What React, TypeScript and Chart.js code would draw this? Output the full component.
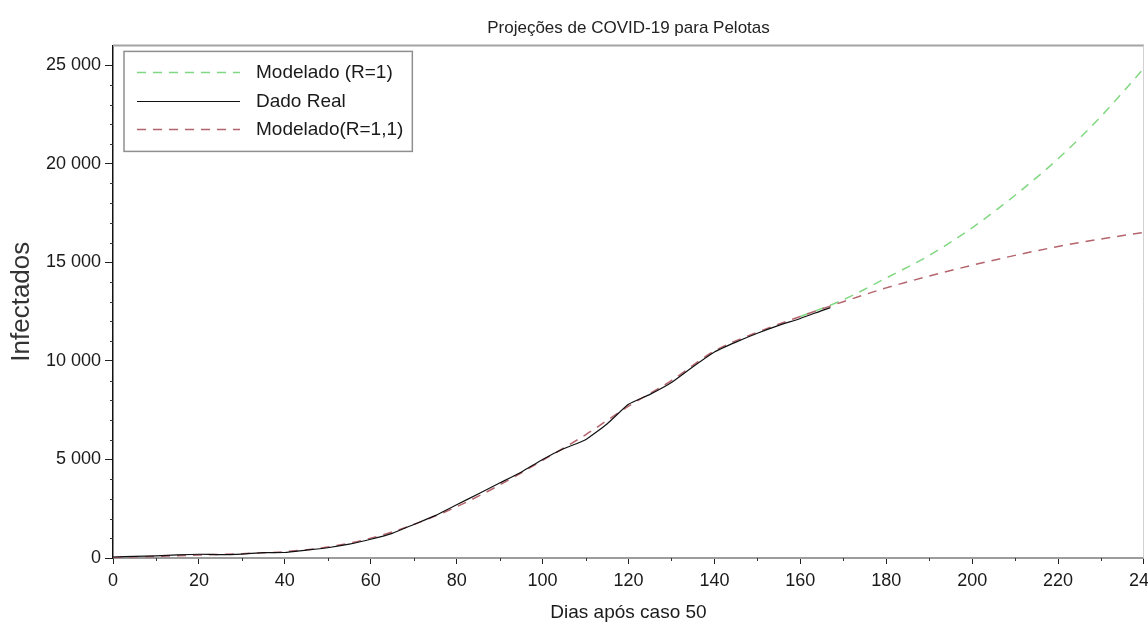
import React, { useEffect, useRef } from "react";
import { Chart, registerables } from "chart.js";

Chart.register(...registerables);

const CHART_TITLE = "Projeções de COVID-19 para Pelotas";
const X_TITLE = "Dias após caso 50";
const Y_TITLE = "Infectados";

const X_TICKS = [0, 20, 40, 60, 80, 100, 120, 140, 160, 180, 200, 220, 240];
const Y_TICKS = [0, 5000, 10000, 15000, 20000, 25000];

// Model with R=1,1 (full horizon)
const MODEL_DAYS = [
  0, 10, 20, 30, 40, 50, 60, 70, 80, 90, 100, 110, 120, 130, 140, 150, 160, 170, 180, 190, 200,
  210, 220, 230, 240,
];
const MODEL_R11 = [
  30, 80, 150, 220, 320, 560, 1000, 1700, 2600, 3700, 4950, 6250, 7700, 9000, 10500, 11450, 12250,
  13000, 13700, 14300, 14850, 15350, 15800, 16180, 16520,
];

// Model with R=1 (projection branch)
const PROJ_DAYS = [160, 170, 180, 190, 200, 210, 220, 230, 240];
const MODEL_R1 = [12250, 13100, 14200, 15350, 16750, 18400, 20250, 22400, 24850];

// Observed cumulative cases
const REAL_DAYS = [
  0, 5, 10, 15, 20, 25, 30, 35, 40, 45, 50, 55, 60, 65, 70, 75, 80, 85, 90, 95, 100, 105, 110,
  115, 120, 125, 130, 135, 140, 145, 150, 155, 160, 165, 167,
];
const REAL_CASES = [
  50, 80, 110, 160, 190, 170, 200, 270, 280, 400, 520, 700, 950, 1250, 1700, 2150, 2700, 3250,
  3800, 4350, 5000, 5550, 6000, 6800, 7800, 8300, 8900, 9700, 10450, 10950, 11400, 11800, 12150,
  12550, 12700,
];

const SERIES_LABELS = ["Modelado (R=1)", "Dado Real", "Modelado(R=1,1)"];

const FONT = "'Liberation Sans', Arial, sans-serif";

const toPoints = (xs: number[], ys: number[]) => xs.map((x, i) => ({ x, y: ys[i] }));
const groupThousands = (v: number) => String(v).replace(/\B(?=(\d{3})+(?!\d))/g, " ");

// Top/right frame lines and minor tick marks
const framePlugin = {
  id: "frame",
  afterDraw(chart: any) {
    const { ctx, chartArea } = chart;
    const { left, right, top, bottom } = chartArea;
    const xs = chart.scales.x;
    const ys = chart.scales.y;
    ctx.save();
    ctx.strokeStyle = "#a4a4a4";
    ctx.lineWidth = 2;
    ctx.beginPath();
    ctx.moveTo(left, top);
    ctx.lineTo(right, top);
    ctx.stroke();
    ctx.strokeStyle = "#d0d0d0";
    ctx.lineWidth = 1;
    ctx.beginPath();
    ctx.moveTo(right - 0.5, top);
    ctx.lineTo(right - 0.5, bottom);
    ctx.stroke();

    ctx.strokeStyle = "#333";
    ctx.lineWidth = 1;
    for (let v = ys.min + 1000; v < ys.max; v += 1000) {
      if (v % 5000 === 0) continue;
      const py = Math.round(ys.getPixelForValue(v)) + 0.5;
      ctx.beginPath();
      ctx.moveTo(left - 3, py);
      ctx.lineTo(left, py);
      ctx.stroke();
    }
    for (let v = xs.min + 10; v < xs.max; v += 20) {
      const px = Math.round(xs.getPixelForValue(v)) + 0.5;
      ctx.beginPath();
      ctx.moveTo(px, bottom);
      ctx.lineTo(px, bottom + 3);
      ctx.stroke();
    }
    ctx.restore();
  },
};

// Boxed legend inside the plot area
const legendBoxPlugin = {
  id: "legendBox",
  afterDraw(chart: any) {
    const { ctx, chartArea } = chart;
    const x0 = chartArea.left + 11;
    const y0 = chartArea.top + 6;
    const datasets = chart.data.datasets;
    ctx.save();
    ctx.font = `19px ${FONT}`;
    const textX = x0 + 132;
    const maxW = Math.max(...datasets.map((d: any) => ctx.measureText(d.label).width));
    const w = 132 + maxW + 9;
    const h = 100;
    ctx.fillStyle = "#ffffff";
    ctx.fillRect(x0, y0, w, h);
    ctx.strokeStyle = "#8f8f8f";
    ctx.lineWidth = 1.5;
    ctx.strokeRect(x0, y0, w, h);
    datasets.forEach((ds: any, i: number) => {
      const y = Math.round(y0 + 21 + i * 28.5) + 0.5;
      ctx.strokeStyle = ds.borderColor;
      ctx.lineWidth = ds.borderWidth;
      ctx.setLineDash(ds.borderDash || []);
      ctx.beginPath();
      ctx.moveTo(x0 + 13, y);
      ctx.lineTo(x0 + 116, y);
      ctx.stroke();
      ctx.setLineDash([]);
      ctx.fillStyle = "#1a1a1a";
      ctx.textBaseline = "middle";
      ctx.textAlign = "left";
      ctx.fillText(ds.label, textX, y);
    });
    ctx.restore();
  },
};

export default function App() {
  const canvasRef = useRef<HTMLCanvasElement | null>(null);

  useEffect(() => {
    if (!canvasRef.current) return;
    const chart = new Chart(canvasRef.current, {
      type: "line",
      data: {
        datasets: [
          {
            label: SERIES_LABELS[0],
            data: toPoints(PROJ_DAYS, MODEL_R1),
            borderColor: "rgb(130, 215, 130)",
            borderWidth: 1.5,
            borderDash: [9, 7],
            pointRadius: 0,
            cubicInterpolationMode: "monotone",
            fill: false,
            order: 2,
          },
          {
            label: SERIES_LABELS[1],
            data: toPoints(REAL_DAYS, REAL_CASES),
            borderColor: "#111111",
            borderWidth: 1.2,
            pointRadius: 0,
            tension: 0.15,
            fill: false,
            order: 0,
          },
          {
            label: SERIES_LABELS[2],
            data: toPoints(MODEL_DAYS, MODEL_R11),
            borderColor: "rgb(180, 100, 108)",
            borderWidth: 1.5,
            borderDash: [9, 7],
            pointRadius: 0,
            cubicInterpolationMode: "monotone",
            fill: false,
            order: 1,
          },
        ],
      },
      options: {
        animation: false,
        responsive: true,
        maintainAspectRatio: false,
        layout: { padding: { left: 0, right: 20, top: 0, bottom: 0 } },
        plugins: {
          legend: { display: false },
          tooltip: { enabled: false },
          title: {
            display: true,
            text: CHART_TITLE,
            fullSize: false,
            color: "#222",
            font: { family: FONT, size: 17, weight: "normal" },
            padding: { top: 18, bottom: 7 },
          },
        },
        scales: {
          x: {
            type: "linear",
            min: 0,
            max: 240,
            afterBuildTicks: (s: any) => {
              s.ticks = X_TICKS.map((v) => ({ value: v }));
            },
            afterFit: (s: any) => {
              s.height = 66;
            },
            ticks: {
              autoSkip: false,
              maxRotation: 0,
              padding: 6,
              color: "#1a1a1a",
              font: { family: FONT, size: 18 },
            },
            grid: {
              display: true,
              drawOnChartArea: false,
              drawTicks: true,
              tickLength: 6,
              tickColor: "#222",
            },
            border: { display: true, color: "#9c9c9c", width: 2 },
            title: {
              display: true,
              text: X_TITLE,
              color: "#1a1a1a",
              font: { family: FONT, size: 19 },
              padding: { top: 0, bottom: 0 },
            },
          },
          y: {
            type: "linear",
            min: 0,
            max: 26000,
            afterBuildTicks: (s: any) => {
              s.ticks = Y_TICKS.map((v) => ({ value: v }));
            },
            afterFit: (s: any) => {
              s.width = 113;
            },
            ticks: {
              autoSkip: false,
              padding: 4,
              color: "#1a1a1a",
              font: { family: FONT, size: 18 },
              callback: (v: any) => groupThousands(Number(v)),
            },
            grid: {
              display: true,
              drawOnChartArea: false,
              drawTicks: true,
              tickLength: 8,
              tickColor: "#222",
            },
            border: { display: true, color: "#111", width: 1.5 },
            title: {
              display: true,
              text: Y_TITLE,
              color: "#333",
              font: { family: FONT, size: 26 },
              padding: { top: 6, bottom: 0 },
            },
          },
        },
      },
      plugins: [framePlugin, legendBoxPlugin],
    });
    return () => chart.destroy();
  }, []);

  return (
    <div
      style={{
        position: "fixed",
        left: 0,
        top: 0,
        width: 1148,
        height: 624,
        overflow: "hidden",
        background: "#ffffff",
      }}
    >
      <div style={{ position: "relative", width: 1165, height: 624 }}>
        <canvas ref={canvasRef} />
      </div>
    </div>
  );
}
